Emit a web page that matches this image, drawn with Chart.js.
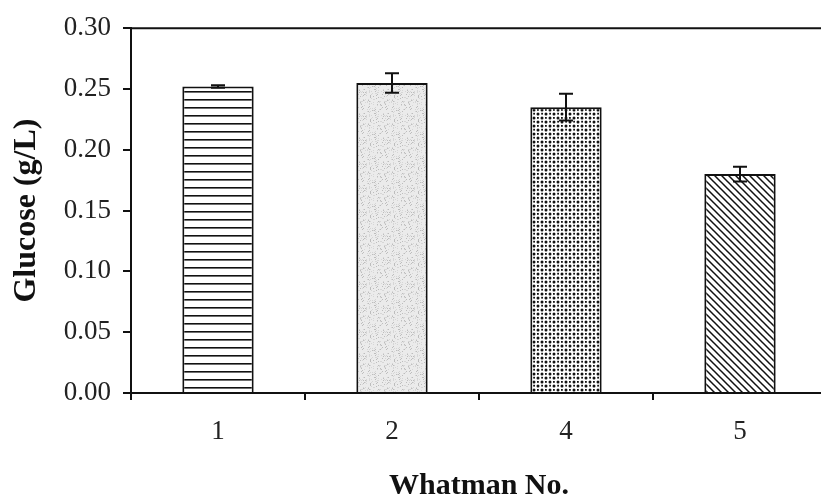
<!DOCTYPE html>
<html>
<head>
<meta charset="utf-8">
<script src="https://cdn.jsdelivr.net/npm/chart.js@4"></script>
<style>
  html, body { margin: 0; padding: 0; background: #fff; overflow: hidden; }
</style>
</head>
<body>
<canvas id="canvas" width="830" height="497"></canvas>
<script>
const categories = ['1', '2', '4', '5'];
const glucose = [0.252, 0.255, 0.235, 0.180];
const errors = [0.001, 0.008, 0.011, 0.006];

// fill textures for the four bars
function makePattern(size, draw) {
  const c = document.createElement('canvas');
  c.width = size; c.height = size;
  const g = c.getContext('2d');
  g.fillStyle = '#fff';
  g.fillRect(0, 0, size, size);
  draw(g, size);
  return document.getElementById('canvas').getContext('2d').createPattern(c, 'repeat');
}

const stripes = makePattern(8, (g) => {
  g.fillStyle = '#111';
  g.fillRect(0, 3, 8, 1.6);
});

const speckle = makePattern(24, (g, s) => {
  g.fillStyle = '#ebebeb';
  g.fillRect(0, 0, s, s);
  // fixed hash for a grainy grey look
  for (let i = 0; i < s; i++) {
    for (let j = 0; j < s; j++) {
      const h = Math.abs(Math.sin(i * 12.9898 + j * 78.233) * 43758.5453) % 1;
      if (h < 0.16) {
        g.fillStyle = h < 0.05 ? '#bdbdbd' : '#d6d6d6';
        g.fillRect(i, j, 1, 1);
      }
    }
  }
});

const dots = makePattern(8, (g) => {
  g.fillStyle = '#111';
  g.beginPath();
  g.arc(2, 2, 1.5, 0, Math.PI * 2);
  g.arc(6, 6, 1.5, 0, Math.PI * 2);
  g.fill();
  g.fillRect(5.2, 0.8, 1.8, 1.8);
  g.fillRect(1, 5, 1.8, 1.8);
});

const hatch = makePattern(7, (g, s) => {
  g.strokeStyle = '#111';
  g.lineWidth = 1.5;
  g.beginPath();
  g.moveTo(-1, -1); g.lineTo(s + 1, s + 1);
  g.moveTo(-1, s - 1); g.lineTo(1, s + 1);
  g.moveTo(s - 1, -1); g.lineTo(s + 1, 1);
  g.stroke();
});

const errorBars = {
  id: 'errorBars',
  afterDatasetsDraw(chart) {
    const ctx = chart.ctx;
    const meta = chart.getDatasetMeta(0);
    const y = chart.scales.y;
    ctx.save();
    ctx.strokeStyle = '#111';
    ctx.lineWidth = 2;
    meta.data.forEach((bar, i) => {
      const top = y.getPixelForValue(glucose[i] + errors[i]);
      const bot = y.getPixelForValue(glucose[i] - errors[i]);
      ctx.beginPath();
      ctx.moveTo(bar.x, top); ctx.lineTo(bar.x, bot);
      ctx.moveTo(bar.x - 7, top); ctx.lineTo(bar.x + 7, top);
      ctx.moveTo(bar.x - 7, bot); ctx.lineTo(bar.x + 7, bot);
      ctx.stroke();
    });
    // top frame line
    const a = chart.chartArea;
    ctx.beginPath();
    ctx.lineWidth = 2;
    ctx.moveTo(a.left, a.top); ctx.lineTo(a.right, a.top);
    ctx.stroke();
    ctx.restore();
  }
};

const font = 'Liberation Serif';

new Chart(document.getElementById('canvas'), {
  type: 'bar',
  data: {
    labels: categories,
    datasets: [{
      data: glucose,
      backgroundColor: [stripes, speckle, dots, hatch],
      borderColor: '#111',
      borderWidth: 2,
      barPercentage: 0.41,
      categoryPercentage: 1
    }]
  },
  options: {
    responsive: false,
    animation: false,
    layout: { padding: { top: 28, right: 3, left: 0, bottom: 0 } },
    plugins: { legend: { display: false }, tooltip: { enabled: false } },
    scales: {
      x: {
        afterFit(s) { s.height = 104; },
        grid: { drawOnChartArea: false, color: '#111', lineWidth: 2, tickLength: 7 },
        border: { color: '#111', width: 2 },
        ticks: { color: '#222', font: { family: font, size: 27 }, padding: 16 },
        title: {
          display: true, text: 'Whatman No.', color: '#111',
          font: { family: font, size: 30, weight: 'bold', lineHeight: 0.5 }, padding: { top: 0, bottom: 3 }
        }
      },
      y: {
        min: 0, max: 0.3,
        afterFit(s) { s.width = 131; },
        grid: { drawOnChartArea: false, color: '#111', lineWidth: 2, tickLength: 8 },
        border: { color: '#111', width: 2 },
        ticks: {
          stepSize: 0.05, color: '#222', padding: 12,
          font: { family: font, size: 27 },
          callback: (v) => v.toFixed(2)
        },
        title: {
          display: true, text: 'Glucose (g/L)', color: '#111',
          font: { family: font, size: 32, weight: 'bold', lineHeight: 1 }, padding: { top: 11, bottom: 0 }
        }
      }
    }
  },
  plugins: [errorBars]
});
</script>
</body>
</html>
